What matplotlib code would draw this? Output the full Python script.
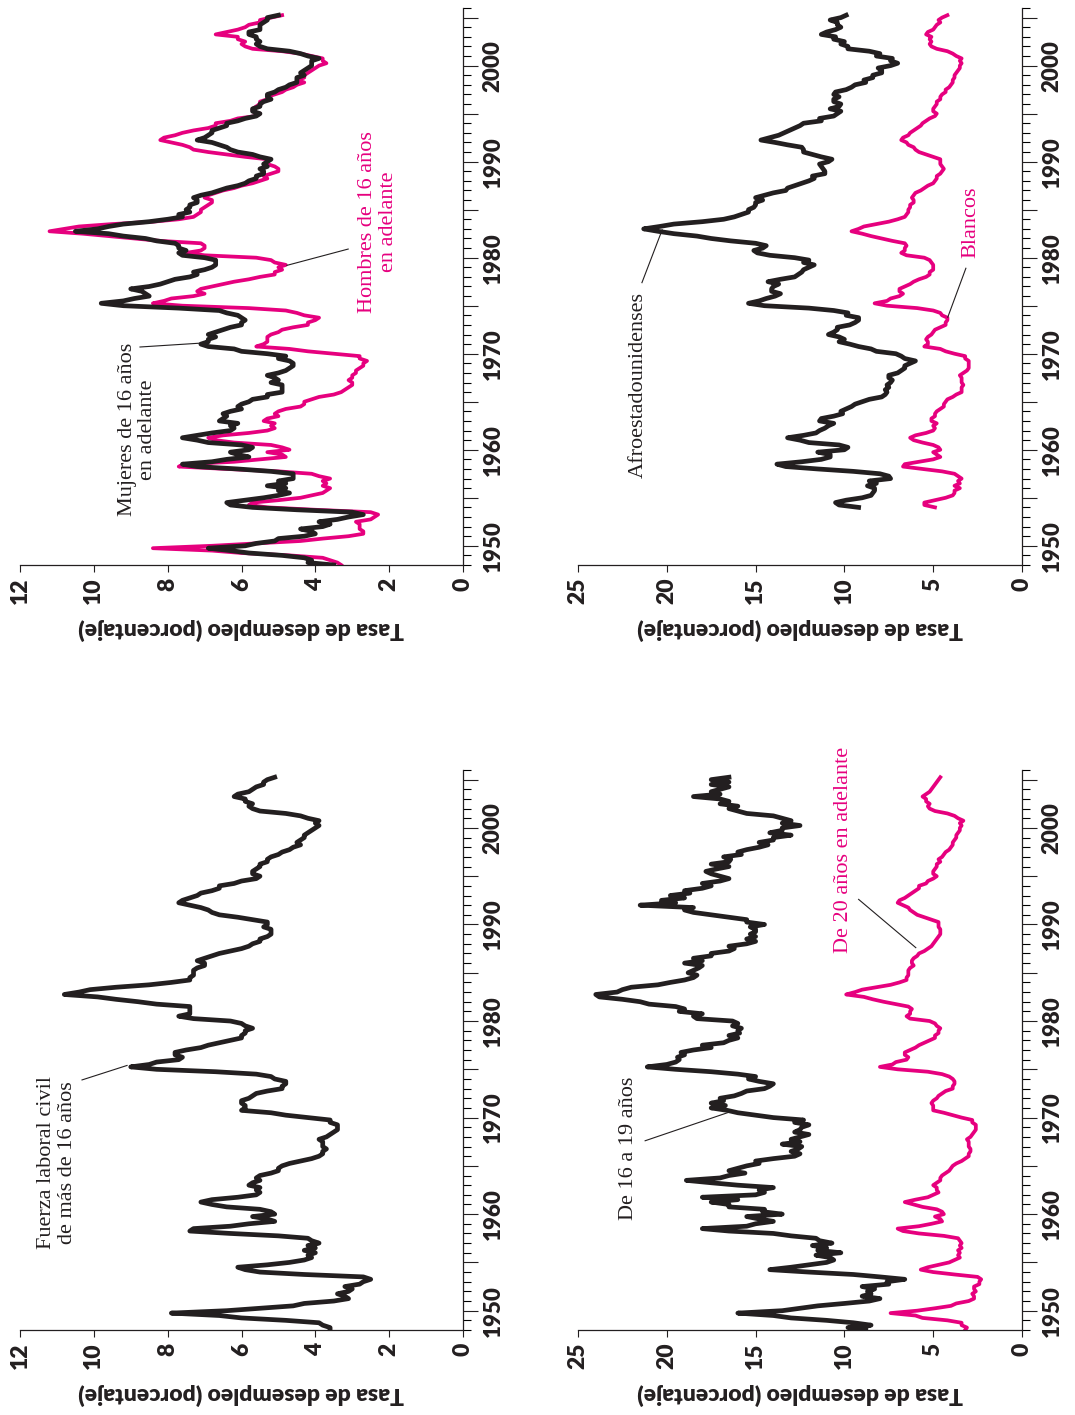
import numpy as np
import matplotlib
matplotlib.use("Agg")
import matplotlib.pyplot as plt
from matplotlib.ticker import MultipleLocator, FuncFormatter

# ---------- Datos trimestrales (tasa de desempleo, %) ----------
# Fuerza laboral civil total, 1948T1 - 2005T2
total = [
    3.6, 3.6, 3.8, 3.9,  4.8, 6.0, 6.6, 7.9,  6.4, 5.5, 4.6, 4.3,  3.5, 3.1, 3.2, 3.4,
    3.1, 3.0, 3.2, 2.8,  2.7, 2.5, 2.7, 4.3,  5.5, 5.9, 6.1, 5.3,  4.7, 4.3, 4.1, 4.2,
    4.0, 4.3, 4.0, 4.2,  3.9, 4.1, 4.2, 5.0,  6.3, 7.4, 7.3, 6.3,  5.8, 5.1, 5.3, 5.7,
    5.1, 5.2, 5.5, 6.4,  6.8, 7.1, 6.8, 6.1,  5.6, 5.5, 5.6, 5.5,  5.8, 5.7, 5.5, 5.6,
    5.5, 5.2, 5.0, 5.0,  4.9, 4.7, 4.4, 4.1,  3.9, 3.8, 3.8, 3.7,  3.8, 3.8, 3.8, 3.9,
    3.7, 3.6, 3.5, 3.4,  3.4, 3.4, 3.6, 3.6,  4.2, 4.8, 5.2, 6.0,  5.9, 5.9, 6.0, 6.0,
    5.8, 5.7, 5.6, 5.3,  4.9, 4.9, 4.8, 4.8,  5.1, 5.2, 5.6, 6.7,  8.3, 9.0, 8.5, 8.3,
    7.7, 7.6, 7.8, 7.8,  7.5, 7.1, 6.9, 6.6,  6.3, 6.0, 6.0, 5.9,  5.9, 5.7, 5.9, 6.0,
    6.3, 7.3, 7.7, 7.4,  7.4, 7.4, 7.4, 8.3,  8.8, 9.4, 9.9, 10.8, 10.4, 10.1, 9.4, 8.5,
    7.9, 7.4, 7.4, 7.3,  7.3, 7.3, 7.2, 7.0,  7.0, 7.2, 7.0, 6.8,  6.6, 6.3, 6.0, 5.8,
    5.7, 5.5, 5.5, 5.3,  5.2, 5.2, 5.2, 5.4,  5.3, 5.3, 5.7, 6.1,  6.6, 6.8, 6.9, 7.1,
    7.4, 7.7, 7.6, 7.4,  7.2, 7.1, 6.8, 6.6,  6.6, 6.2, 6.0, 5.6,  5.5, 5.7, 5.7, 5.6,
    5.5, 5.5, 5.3, 5.3,  5.2, 5.0, 4.9, 4.7,  4.6, 4.4, 4.5, 4.4,  4.3, 4.3, 4.2, 4.1,
    4.0, 3.9, 4.0, 3.9,  4.2, 4.4, 4.8, 5.5,  5.7, 5.8, 5.7, 5.9,  5.9, 6.2, 6.1, 5.8,
    5.7, 5.6, 5.4, 5.4,  5.3, 5.1,
]

hombres = [
    3.3, 3.4, 3.6, 3.8,  4.7, 6.0, 6.8, 8.4,  6.8, 5.6, 4.4, 3.8,  3.1, 2.7, 2.7, 2.8,
    2.8, 2.8, 2.9, 2.5,  2.4, 2.3, 2.5, 4.0,  5.3, 5.8, 5.7, 5.0,  4.4, 4.1, 3.8, 3.7,
    3.6, 3.8, 3.7, 3.8,  3.6, 3.9, 4.1, 5.0,  6.4, 7.7, 7.5, 6.2,  5.5, 4.8, 4.9, 5.3,
    4.7, 4.9, 5.2, 6.2,  6.7, 6.9, 6.5, 5.8,  5.3, 5.1, 5.2, 5.1,  5.4, 5.3, 5.0, 5.1,
    5.0, 4.8, 4.4, 4.3,  4.3, 4.1, 3.9, 3.5,  3.3, 3.2, 3.1, 3.0,  3.0, 3.1, 3.0, 3.0,
    2.9, 2.9, 2.8, 2.7,  2.7, 2.6, 2.8, 2.8,  3.5, 4.2, 4.7, 5.6,  5.4, 5.3, 5.3, 5.3,
    5.2, 5.0, 4.9, 4.6,  4.2, 4.2, 4.0, 3.9,  4.3, 4.5, 4.8, 5.8,  7.6, 8.4, 8.1, 7.9,
    7.3, 7.0, 7.2, 7.1,  6.8, 6.5, 6.2, 5.8,  5.5, 5.1, 5.1, 4.9,  5.0, 4.8, 5.1, 5.2,
    5.6, 7.0, 7.5, 7.1,  7.0, 7.0, 7.1, 8.2,  8.9, 9.6, 10.3, 11.2, 10.8, 10.4, 9.5, 8.4,
    7.7, 7.3, 7.2, 7.1,  7.1, 7.0, 6.9, 6.8,  6.8, 7.0, 6.9, 6.7,  6.5, 6.2, 6.0, 5.7,
    5.5, 5.3, 5.4, 5.2,  5.0, 5.0, 5.1, 5.3,  5.3, 5.3, 5.9, 6.4,  6.9, 7.3, 7.4, 7.6,
    7.9, 8.2, 8.1, 7.8,  7.6, 7.3, 6.9, 6.7,  6.7, 6.3, 6.1, 5.6,  5.5, 5.7, 5.7, 5.6,
    5.5, 5.5, 5.3, 5.3,  5.1, 4.9, 4.8, 4.6,  4.5, 4.3, 4.5, 4.3,  4.3, 4.2, 4.1, 4.0,
    3.9, 3.7, 3.8, 3.8,  4.1, 4.4, 4.9, 5.7,  5.9, 6.0, 5.9, 6.1,  6.1, 6.7, 6.4, 6.1,
    5.9, 5.8, 5.5, 5.5,  5.2, 4.9,
]

mujeres = [
    3.5, 4.2, 4.1, 4.3,  4.9, 5.8, 6.3, 6.9,  5.9, 5.6, 5.1, 5.0,  4.3, 4.0, 4.1, 4.4,
    3.8, 3.6, 3.9, 3.4,  3.1, 2.7, 3.0, 4.5,  5.7, 6.3, 6.4, 5.9,  5.4, 5.0, 4.7, 5.0,
    4.8, 5.3, 4.8, 5.0,  4.6, 4.6, 4.6, 5.2,  6.1, 7.2, 7.6, 6.8,  6.4, 5.8, 6.1, 6.3,
    5.8, 5.7, 6.0, 6.9,  7.2, 7.6, 7.2, 6.8,  6.3, 6.2, 6.3, 6.1,  6.6, 6.5, 6.4, 6.5,
    6.3, 6.0, 6.1, 6.0,  5.8, 5.7, 5.3, 5.3,  4.9, 4.9, 4.9, 4.9,  5.2, 5.0, 5.1, 5.3,
    5.0, 4.8, 4.7, 4.6,  4.6, 4.7, 5.0, 4.8,  5.3, 6.0, 6.2, 6.9,  7.1, 6.9, 6.9, 6.7,
    6.9, 6.7, 6.5, 6.3,  6.0, 6.0, 5.9, 6.0,  6.1, 6.4, 6.6, 7.7,  9.2, 9.8, 9.2, 8.9,
    8.5, 8.6, 8.7, 9.0,  8.5, 8.2, 8.0, 7.8,  7.4, 7.2, 7.3, 7.0,  6.8, 6.7, 6.7, 6.7,
    7.0, 7.6, 7.7, 7.5,  7.7, 7.7, 7.8, 8.3,  8.6, 9.2, 9.6, 10.5, 9.9, 9.6, 9.2, 8.5,
    8.0, 7.6, 7.7, 7.4,  7.5, 7.4, 7.4, 7.2,  7.2, 7.3, 7.1, 6.8,  6.6, 6.4, 6.1, 5.9,
    5.8, 5.6, 5.6, 5.4,  5.4, 5.5, 5.3, 5.4,  5.3, 5.2, 5.5, 5.7,  6.1, 6.3, 6.4, 6.6,
    6.8, 7.2, 7.0, 6.9,  6.8, 6.8, 6.6, 6.4,  6.4, 6.1, 5.9, 5.6,  5.5, 5.7, 5.7, 5.5,
    5.5, 5.4, 5.2, 5.3,  5.3, 5.1, 5.0, 4.8,  4.7, 4.5, 4.5, 4.5,  4.3, 4.4, 4.3, 4.2,
    4.1, 4.1, 4.1, 3.9,  4.2, 4.4, 4.7, 5.3,  5.5, 5.6, 5.5, 5.6,  5.6, 5.8, 5.8, 5.5,
    5.5, 5.5, 5.4, 5.3,  5.3, 5.0,
]

# Afroestadounidenses y blancos, 1954T1 - 2005T2
afro = [
    9.2, 10.3, 10.5, 9.9,  9.0, 8.5, 8.4, 8.3,  8.3, 8.7, 8.2, 8.6,  7.4, 7.5, 8.0, 9.5,
    11.5, 13.3, 13.8, 12.4, 11.3, 10.8, 10.8, 11.5, 10.0, 9.8, 10.3, 12.0, 12.5, 13.2, 12.3, 11.6,
    11.4, 11.1, 10.9, 10.6, 11.4, 11.3, 10.6, 10.1, 10.2, 9.9, 9.6, 9.4,  9.0, 8.6, 7.9, 7.7,
    7.6, 7.7, 7.5, 7.6,  7.4, 7.3, 7.5, 7.5,  7.0, 6.8, 6.6, 6.6,  6.3, 6.0, 6.6, 6.8,
    7.1, 8.2, 8.5, 9.2,  9.7, 10.3, 10.0, 10.3, 10.9, 10.6, 10.4, 10.4, 9.7, 9.4, 9.2, 9.2,
    9.9, 9.8, 10.6, 12.0, 14.5, 15.4, 14.8, 14.4, 13.9, 13.6, 14.1, 14.1, 14.0, 13.7, 14.3, 13.6,
    12.8, 12.6, 12.4, 12.3, 12.0, 11.7, 12.3, 12.0, 12.8, 14.2, 14.9, 15.1, 14.6, 14.4, 15.0, 16.4,
    17.5, 18.3, 19.6, 20.5, 21.3, 20.4, 19.6, 18.0, 16.8, 16.2, 15.8, 15.4, 15.4, 15.1, 15.0, 15.0,
    14.6, 15.0, 14.5, 14.0, 13.3, 13.2, 12.8, 12.4, 12.0, 11.7, 11.8, 11.1, 11.1, 11.2, 11.3, 11.4,
    10.9, 10.7, 11.3, 11.8, 12.3, 12.3, 12.4, 13.2, 13.9, 14.7, 14.2, 13.7, 13.4, 13.1, 12.8, 12.5,
    12.3, 11.3, 11.4, 10.6, 10.4, 10.2, 10.8, 10.3, 10.2, 10.6, 10.6, 10.3, 10.6, 10.5, 9.9, 9.6,
    9.4, 8.8, 8.9, 8.4,  8.4, 7.9, 7.9, 8.1,  7.4, 7.0, 7.4, 7.3,  8.2, 8.0, 8.6, 9.8,
    9.8, 10.2, 10.0, 10.6, 10.5, 11.3, 11.0, 10.5, 10.2, 10.4, 10.4, 10.8, 10.2, 9.9,
]

blancos = [
    4.9, 5.5, 5.5, 4.9,  4.3, 3.9, 3.8, 3.8,  3.5, 3.8, 3.5, 3.6,  3.4, 3.6, 3.8, 4.5,
    5.6, 6.7, 6.6, 5.8,  5.0, 4.6, 4.8, 5.0,  4.6, 4.7, 5.0, 5.6,  6.1, 6.3, 6.0, 5.4,
    5.0, 4.9, 5.0, 4.8,  5.1, 5.1, 4.9, 4.9,  4.8, 4.6, 4.4, 4.4,  4.3, 4.2, 3.9, 3.7,
    3.4, 3.4, 3.4, 3.3,  3.4, 3.4, 3.4, 3.5,  3.3, 3.1, 3.0, 3.0,  3.0, 3.0, 3.2, 3.2,
    3.8, 4.3, 4.6, 5.5,  5.3, 5.3, 5.4, 5.3,  5.1, 5.0, 4.9, 4.6,  4.3, 4.3, 4.2, 4.2,
    4.5, 4.6, 5.0, 5.9,  7.6, 8.3, 7.6, 7.4,  6.9, 6.7, 6.9, 6.9,  6.6, 6.3, 6.1, 5.8,
    5.4, 5.2, 5.2, 5.0,  5.0, 5.0, 5.1, 5.2,  5.5, 6.5, 6.8, 6.6,  6.6, 6.5, 6.6, 7.3,
    7.9, 8.5, 9.0, 9.6,  9.2, 8.9, 8.2, 7.5,  7.0, 6.6, 6.5, 6.4,  6.4, 6.3, 6.3, 6.1,
    6.1, 6.2, 6.1, 6.0,  5.7, 5.5, 5.3, 5.0,  4.9, 4.8, 4.8, 4.6,  4.5, 4.4, 4.5, 4.6,
    4.6, 4.6, 5.0, 5.4,  5.8, 6.0, 6.1, 6.4,  6.5, 6.8, 6.7, 6.4,  6.3, 6.1, 5.9, 5.7,
    5.6, 5.4, 5.2, 4.9,  4.8, 5.0, 5.0, 4.9,  4.8, 4.8, 4.6, 4.6,  4.5, 4.3, 4.3, 4.1,
    4.0, 3.9, 3.9, 3.8,  3.8, 3.7, 3.6, 3.5,  3.5, 3.4, 3.5, 3.4,  3.7, 3.9, 4.2, 4.8,
    5.1, 5.2, 5.1, 5.2,  5.1, 5.4, 5.3, 5.0,  4.9, 4.8, 4.6, 4.7,  4.5, 4.2,
]

# De 16 a 19 años y de 20 años en adelante, 1948T1 - 2005T2
jovenes = [
    8.8, 9.8, 8.5, 9.5,  11.0, 13.0, 14.0, 16.0, 13.5, 12.5, 11.5, 10.0, 8.6, 8.0, 9.0, 8.5,
    8.7, 8.3, 9.0, 7.5,  7.6, 6.6, 8.0, 9.5,  12.0, 14.2, 13.0, 12.0, 11.0, 10.6, 10.8, 11.6,
    10.2, 11.5, 11.0, 11.8, 10.7, 11.4, 11.6, 13.0, 14.0, 16.5, 18.0, 15.5, 15.0, 14.0, 14.8, 15.5,
    13.5, 14.6, 14.5, 16.5, 16.5, 17.5, 16.0, 18.0, 15.0, 14.5, 14.8, 14.0, 16.0, 17.5, 18.9, 17.0,
    16.5, 15.6, 16.5, 16.0, 15.5, 14.8, 15.0, 14.0, 12.8, 12.5, 13.0, 12.6, 12.4, 13.5, 12.5, 13.0,
    12.5, 12.0, 12.8, 12.5, 12.4, 12.0, 12.8, 12.3, 14.0, 15.0, 16.0, 16.6, 17.5, 16.7, 17.5, 16.8,
    17.0, 16.2, 15.8, 15.5, 14.5, 14.2, 14.0, 14.8, 15.4, 15.0, 16.0, 17.5, 19.5, 21.1, 20.0, 19.5,
    19.3, 19.4, 19.0, 19.2, 18.5, 17.5, 18.0, 16.8, 16.5, 16.0, 16.5, 15.9, 16.0, 15.8, 16.3, 16.0,
    16.3, 18.3, 18.5, 18.0, 19.3, 19.0, 19.5, 21.0, 21.5, 22.5, 23.8, 24.0, 22.8, 22.5, 22.0, 20.5,
    19.8, 19.0, 18.5, 18.3, 18.8, 18.5, 18.2, 18.0, 19.0, 18.0, 18.5, 17.5, 17.5, 16.5, 16.2, 16.5,
    15.5, 15.0, 15.5, 15.0, 15.3, 15.0, 15.0, 15.3, 14.5, 15.5, 15.5, 16.5, 17.5, 18.5, 19.0, 18.5,
    21.5, 19.5, 20.3, 19.0, 19.8, 18.7, 19.0, 18.0, 17.5, 18.0, 17.0, 16.5, 17.0, 17.5, 17.8, 17.2,
    16.5, 17.5, 16.5, 16.4, 16.8, 15.8, 16.0, 15.5, 14.8, 14.3, 14.8, 14.0, 14.0, 13.0, 14.2, 13.5,
    13.5, 12.5, 13.5, 13.0, 13.5, 14.0, 15.5, 16.0, 16.5, 16.0, 17.0, 16.5, 17.0, 18.5, 17.0, 17.5,
    17.0, 16.5, 17.5, 16.5, 17.5, 16.5,
]

adultos = [
    3.2, 3.1, 3.4, 3.4,  4.2, 5.6, 6.0, 7.4,  5.9, 4.9, 4.0, 3.7,  3.0, 2.7, 2.7, 2.8,
    2.6, 2.7, 2.7, 2.4,  2.4, 2.3, 2.5, 3.8,  5.0, 5.7, 5.3, 4.7,  4.1, 3.8, 3.5, 3.6,
    3.5, 3.6, 3.4, 3.5,  3.4, 3.5, 3.6, 4.4,  5.8, 6.7, 7.0, 5.8,  5.1, 4.5, 4.6, 4.9,
    4.4, 4.5, 4.8, 5.6,  6.1, 6.6, 6.0, 5.3,  5.0, 4.7, 4.8, 4.8,  5.0, 4.8, 4.6, 4.6,
    4.5, 4.3, 4.1, 4.0,  3.9, 3.7, 3.4, 3.2,  3.0, 3.0, 2.9, 2.9,  3.0, 3.0, 3.0, 3.1,
    2.9, 2.8, 2.7, 2.6,  2.6, 2.6, 2.8, 2.8,  3.4, 3.9, 4.4, 5.0,  5.0, 5.0, 5.1, 5.0,
    4.8, 4.7, 4.5, 4.3,  3.9, 3.9, 3.8, 3.8,  3.9, 4.1, 4.5, 5.3,  7.0, 8.0, 7.3, 7.1,
    6.5, 6.4, 6.6, 6.6,  6.3, 6.0, 5.8, 5.5,  5.2, 4.9, 4.9, 4.7,  4.7, 4.6, 4.8, 4.9,
    5.2, 6.3, 6.5, 6.3,  6.3, 6.2, 6.4, 7.1,  7.8, 8.4, 8.9, 9.9,  9.4, 9.0, 8.2, 7.4,
    6.9, 6.5, 6.5, 6.4,  6.4, 6.4, 6.3, 6.1,  6.2, 6.2, 6.1, 5.9,  5.8, 5.5, 5.3, 5.1,
    5.0, 4.9, 4.8, 4.7,  4.6, 4.6, 4.6, 4.7,  4.7, 4.7, 5.1, 5.5,  5.9, 6.1, 6.3, 6.4,
    6.7, 7.0, 6.9, 6.6,  6.4, 6.2, 6.0, 5.8,  5.8, 5.4, 5.3, 5.0,  4.8, 5.0, 5.0, 4.9,
    4.8, 4.8, 4.6, 4.7,  4.5, 4.4, 4.3, 4.1,  4.0, 3.9, 3.9, 3.8,  3.7, 3.7, 3.6, 3.5,
    3.5, 3.4, 3.5, 3.3,  3.6, 3.8, 4.2, 4.9,  5.2, 5.3, 5.2, 5.4,  5.4, 5.6, 5.4, 5.2,
    5.1, 5.0, 4.9, 4.8,  4.7, 4.6,
]

inicio_total = 1948.0
inicio_raza = 1954.0
paso = 0.25  # datos trimestrales

NEGRO = '#231f20'
MAGENTA = '#e6007e'
SANS = ['Lato', 'DejaVu Sans']
SERIF = ['Liberation Serif', 'DejaVu Serif']


def anios(serie, inicio):
    return inicio + paso * np.arange(len(serie))


def preparar(ax, rmax, rstep):
    # el gráfico está girado: la tasa va en el eje horizontal (invertido)
    ax.set_xlim(rmax, 0)
    ax.set_ylim(1948, 2006)
    for s in ['top', 'left']:
        ax.spines[s].set_visible(False)
    for s in ['bottom', 'right']:
        ax.spines[s].set_linewidth(0.9)
        ax.spines[s].set_color(NEGRO)
    ax.yaxis.tick_right()
    ax.yaxis.set_major_locator(MultipleLocator(5))
    ax.yaxis.set_minor_locator(MultipleLocator(1))
    ax.yaxis.set_major_formatter(FuncFormatter(lambda v, p: f'{int(v)}' if int(v) % 10 == 0 else ''))
    ax.xaxis.set_major_locator(MultipleLocator(rstep))
    ax.xaxis.set_major_formatter(FuncFormatter(lambda v, p: f'{int(v)}'))
    ax.tick_params(axis='y', which='major', direction='out', length=11, width=0.8, pad=3,
                   labelsize=16, labelrotation=90, colors=NEGRO)
    ax.tick_params(axis='y', which='minor', direction='out', length=6, width=0.8)
    ax.tick_params(axis='x', which='major', direction='out', length=5, width=0.8, pad=4,
                   labelsize=16.5, labelrotation=90, colors=NEGRO)
    for lab in ax.get_yticklabels() + ax.get_xticklabels():
        lab.set_family(SANS)
        lab.set_fontweight('heavy')
    for lab in ax.get_yticklabels():
        lab.set_va('center')
    ax.set_xlabel('Tasa de desempleo (porcentaje)', family=SANS, fontweight='heavy',
                  fontsize=16.5, rotation=180, labelpad=10, color=NEGRO)


def etiqueta(ax, texto, pos, linea, color):
    ax.text(pos[0], pos[1], texto, rotation=90, ha='center', va='center',
            multialignment='center', family=SERIF, fontsize=16, color=color,
            linespacing=1.1)
    ax.plot([linea[0][0], linea[1][0]], [linea[0][1], linea[1][1]], color=NEGRO, lw=0.8)


fig = plt.figure(figsize=(10.75, 14.15), dpi=100)
W, H = 1075, 1415
ax_tl = fig.add_axes([20 / W, 1 - 565 / H, 443 / W, 557 / H])
ax_tr = fig.add_axes([578 / W, 1 - 565 / H, 444 / W, 557 / H])
ax_bl = fig.add_axes([20 / W, 1 - 1330 / H, 443 / W, 560 / H])
ax_br = fig.add_axes([578 / W, 1 - 1330 / H, 444 / W, 560 / H])

LW_N, LW_M = 3.4, 2.7

# Hombres y mujeres
ax = ax_tl
preparar(ax, 12, 2)
ax.plot(hombres, anios(hombres, inicio_total), color=MAGENTA, lw=LW_M, solid_joinstyle='round')
ax.plot(mujeres, anios(mujeres, inicio_total), color=NEGRO, lw=LW_N, solid_joinstyle='round')
etiqueta(ax, 'Mujeres de 16 años\nen adelante', (8.82, 1962.1),
         ((8.75, 1970.7), (7.12, 1971.1)), NEGRO)
etiqueta(ax, 'Hombres de 16 años\nen adelante', (2.30, 1983.7),
         ((3.11, 1980.9), (4.77, 1979.2)), MAGENTA)

# Afroestadounidenses y blancos
ax = ax_tr
preparar(ax, 25, 5)
ax.plot(afro, anios(afro, inicio_raza), color=NEGRO, lw=LW_N, solid_joinstyle='round')
ax.plot(blancos, anios(blancos, inicio_raza), color=MAGENTA, lw=LW_M, solid_joinstyle='round')
etiqueta(ax, 'Afroestadounidenses', (21.6, 1966.7),
         ((21.4, 1977.4), (20.26, 1982.9)), NEGRO)
etiqueta(ax, 'Blancos', (2.88, 1983.7),
         ((3.16, 1978.9), (4.18, 1973.8)), MAGENTA)

# Total
ax = ax_bl
preparar(ax, 12, 2)
ax.plot(total, anios(total, inicio_total), color=NEGRO, lw=LW_N, solid_joinstyle='round')
etiqueta(ax, 'Fuerza laboral civil\nde más de 16 años', (11.0, 1965.3),
         ((10.32, 1973.9), (9.10, 1975.4)), NEGRO)

# Por edad
ax = ax_br
preparar(ax, 25, 5)
ax.plot(jovenes, anios(jovenes, inicio_total), color=NEGRO, lw=LW_N, solid_joinstyle='round')
ax.plot(adultos, anios(adultos, inicio_total), color=MAGENTA, lw=LW_M, solid_joinstyle='round')
etiqueta(ax, 'De 16 a 19 años', (22.18, 1966.85),
         ((21.22, 1967.6), (16.59, 1970.5)), NEGRO)
etiqueta(ax, 'De 20 años en adelante', (10.05, 1997.7),
         ((9.2, 1992.6), (5.98, 1987.6)), MAGENTA)

fig.savefig('out.png', dpi=100, facecolor='white')
